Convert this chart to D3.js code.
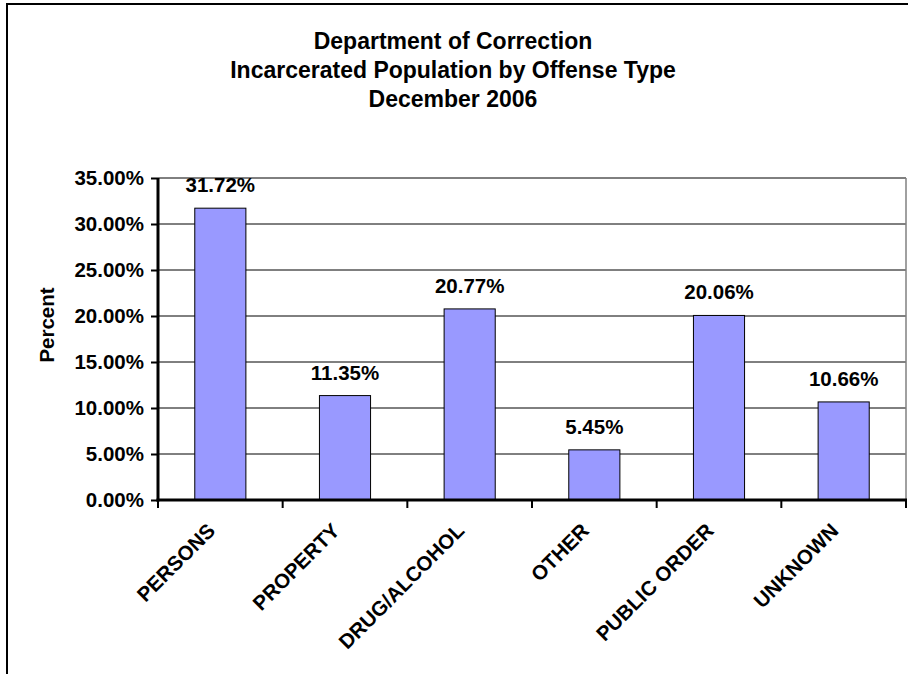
<!DOCTYPE html>
<html>
<head>
<meta charset="utf-8">
<script src="https://cdn.jsdelivr.net/npm/d3@7"></script>
<style>
  html, body { margin: 0; padding: 0; background: #fff; }
  svg { display: block; }
  text { font-family: Arial, "Liberation Sans", sans-serif; font-weight: bold; fill: #000; }
</style>
</head>
<body>
<svg id="chart" width="908" height="674"></svg>
<script>
// Offense categories and their share of the incarcerated population (%)
const categories = ["PERSONS", "PROPERTY", "DRUG/ALCOHOL", "OTHER", "PUBLIC ORDER", "UNKNOWN"];
const percents = [31.72, 11.35, 20.77, 5.45, 20.06, 10.66];
const yTicks = [0, 5, 10, 15, 20, 25, 30, 35];
const titleLines = ["Department of Correction", "Incarcerated Population by Offense Type", "December 2006"];

const svg = d3.select("#chart");
const plot = { left: 158, right: 906, top: 178, bottom: 500 };
const labelSize = 20.5;

// Outer frame
svg.append("rect")
  .attr("x", 7).attr("y", 4)
  .attr("width", 920).attr("height", 700)
  .attr("fill", "none").attr("stroke", "#000").attr("stroke-width", 2);

// Title
svg.append("g").selectAll("text").data(titleLines).join("text")
  .attr("x", 453)
  .attr("y", (d, i) => 49 + i * 29)
  .attr("text-anchor", "middle")
  .attr("font-size", 23)
  .text(d => d);

const x = d3.scaleBand().domain(categories).range([plot.left, plot.right]);
const y = d3.scaleLinear().domain([0, 35]).range([plot.bottom, plot.top]);

// Horizontal gridlines
svg.append("g").selectAll("line").data(yTicks.filter(t => t > 0)).join("line")
  .attr("x1", plot.left).attr("x2", plot.right)
  .attr("y1", d => y(d)).attr("y2", d => y(d))
  .attr("stroke", "#000").attr("stroke-width", 1);

// Right edge of plot area
svg.append("line")
  .attr("x1", plot.right).attr("x2", plot.right)
  .attr("y1", plot.top).attr("y2", plot.bottom)
  .attr("stroke", "#808080").attr("stroke-width", 1.5);

// Bars
const barW = x.bandwidth() * 0.41;
svg.append("g").selectAll("rect").data(categories).join("rect")
  .attr("x", d => x(d) + (x.bandwidth() - barW) / 2)
  .attr("y", (d, i) => y(percents[i]))
  .attr("width", barW)
  .attr("height", (d, i) => y(0) - y(percents[i]))
  .attr("fill", "#9999ff")
  .attr("stroke", "#000").attr("stroke-width", 1);

// Value labels
svg.append("g").selectAll("text").data(categories).join("text")
  .attr("x", d => x(d) + x.bandwidth() / 2)
  .attr("y", (d, i) => y(percents[i]) - 16)
  .attr("text-anchor", "middle")
  .attr("font-size", labelSize)
  .text((d, i) => percents[i].toFixed(2) + "%");

// Y axis
const yAxis = svg.append("g")
  .attr("transform", `translate(${plot.left},0)`)
  .call(d3.axisLeft(y).tickValues(yTicks).tickSize(7).tickPadding(7)
    .tickFormat(d => d.toFixed(2) + "%"));
yAxis.select(".domain").attr("stroke", "#000").attr("stroke-width", 3)
  .attr("d", `M0,${plot.top}V${plot.bottom + 1.5}`);
yAxis.selectAll(".tick line").attr("stroke", "#000").attr("stroke-width", 2);
yAxis.selectAll(".tick text")
  .attr("font-size", labelSize)
  .attr("font-family", "Arial, 'Liberation Sans', sans-serif")
  .attr("font-weight", "bold")
  .attr("fill", "#000");

// X axis: ticks at the category boundaries
const xAxisG = svg.append("g");
xAxisG.append("line")
  .attr("x1", plot.left - 1.5).attr("x2", plot.right + 1)
  .attr("y1", plot.bottom).attr("y2", plot.bottom)
  .attr("stroke", "#000").attr("stroke-width", 3);
const boundaries = categories.map(c => x(c)).concat([plot.right]);
xAxisG.selectAll("line.tk").data(boundaries).join("line")
  .attr("class", "tk")
  .attr("x1", d => d).attr("x2", d => d)
  .attr("y1", plot.bottom).attr("y2", plot.bottom + 8)
  .attr("stroke", "#000").attr("stroke-width", 2);

// Category labels, rotated
xAxisG.selectAll("text").data(categories).join("text")
  .attr("transform", d => `translate(${x(d) + x.bandwidth() / 2 - 4},532) rotate(-45)`)
  .attr("text-anchor", "end")
  .attr("font-size", labelSize)
  .text(d => d);

// Y axis title
svg.append("text")
  .attr("transform", "translate(54,325) rotate(-90)")
  .attr("text-anchor", "middle")
  .attr("font-size", labelSize)
  .text("Percent");
</script>
</body>
</html>
